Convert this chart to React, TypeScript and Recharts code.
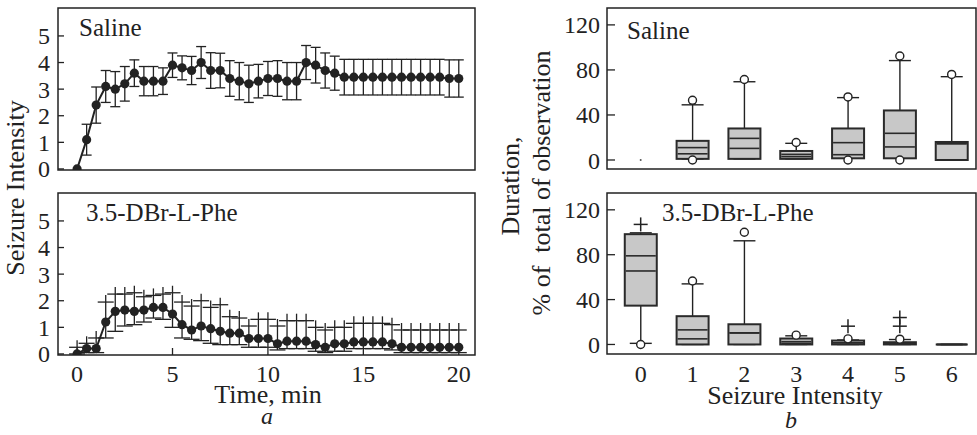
import React from "react";
import {
  Bar,
  ComposedChart,
  ErrorBar,
  Line,
  ReferenceArea,
  Scatter,
  XAxis,
  YAxis,
} from "recharts";

const FONT = '"Liberation Serif", "Times New Roman", serif';
const INK = "#222";

// ---- panel a: time course (min) ----
const times = [
  0, 0.5, 1, 1.5, 2, 2.5, 3, 3.5, 4, 4.5, 5, 5.5, 6, 6.5, 7, 7.5, 8, 8.5, 9,
  9.5, 10, 10.5, 11, 11.5, 12, 12.5, 13, 13.5, 14, 14.5, 15, 15.5, 16, 16.5,
  17, 17.5, 18, 18.5, 19, 19.5, 20,
];
const salineMean = [
  0, 1.1, 2.4, 3.1, 3.0, 3.2, 3.6, 3.3, 3.3, 3.3, 3.9, 3.8, 3.7, 4.0, 3.7, 3.7,
  3.4, 3.3, 3.2, 3.3, 3.4, 3.4, 3.3, 3.3, 4.0, 3.9, 3.7, 3.6, 3.45, 3.45, 3.45,
  3.45, 3.45, 3.45, 3.45, 3.45, 3.45, 3.45, 3.45, 3.4, 3.4,
];
const salineErr = [
  0, 0.58, 0.68, 0.6, 0.66, 0.65, 0.5, 0.55, 0.55, 0.5, 0.46, 0.45, 0.53, 0.6,
  0.67, 0.65, 0.67, 0.7, 0.7, 0.63, 0.64, 0.67, 0.7, 0.7, 0.64, 0.67, 0.66,
  0.64, 0.67, 0.67, 0.67, 0.67, 0.67, 0.67, 0.67, 0.67, 0.67, 0.67, 0.67, 0.7,
  0.7,
];
const pheMean = [
  0, 0.2, 0.2, 1.2, 1.6, 1.65, 1.6, 1.65, 1.75, 1.75, 1.5, 1.1, 0.9, 1.05,
  0.95, 0.85, 0.78, 0.78, 0.58, 0.58, 0.58, 0.38, 0.48, 0.48, 0.48, 0.35, 0.25,
  0.38, 0.38, 0.45, 0.45, 0.45, 0.45, 0.38, 0.25, 0.25, 0.25, 0.25, 0.25, 0.25,
  0.25,
];
const pheUpper = [
  0.25, 0.4, 0.6, 1.95, 2.25, 2.25, 2.3, 2.15, 2.2, 2.25, 2.3, 1.95, 1.8, 2.0,
  1.75, 1.85, 1.4, 1.35, 1.05, 1.3, 1.3, 1.05, 1.25, 1.25, 1.25, 1.0, 0.9, 1.0,
  1.0, 1.15, 1.15, 1.15, 1.15, 1.1, 0.9, 0.9, 0.9, 0.9, 0.9, 0.9, 0.9,
];
const pheLower = [
  0, 0.05, 0.05, 0.6, 0.85, 1.05, 1.1, 1.2, 1.35, 1.3, 1.0, 0.6, 0.55, 0.5,
  0.4, 0.35, 0.35, 0.35, 0.25, 0.25, 0.25, 0.15, 0.2, 0.2, 0.2, 0.1, 0.05, 0.1,
  0.1, 0.2, 0.2, 0.2, 0.2, 0.15, 0.05, 0.05, 0.05, 0.05, 0.05, 0.05, 0.05,
];
const intensityTicks = [0, 1, 2, 3, 4, 5];
const timeTicks = [0, 5, 10, 15, 20];

// ---- panel b: box plots by seizure intensity ----
const cats = [0, 1, 2, 3, 4, 5, 6];
const durationTicks = [0, 40, 80, 120];

const salQ1 = [null, 1, 1, 1, 1.5, 1.5, 0];
const salQ3 = [null, 17, 28, 8, 28, 44, 16];
const salLineA = [null, 5.5, 10.3, 3, 4.7, 11.6, 14.5];
const salLineB = [null, 11, 19.2, 5, 15.4, 23.7, 14.5];
const salWhiskLo = [null, 1, 1, 1, 1.5, 1.5, 0];
const salWhiskHi = [null, 49, 69.5, 14.8, 55.4, 88.3, 74];
const salCircleCat = [1, 1, 2, 3, 4, 4, 5, 5, 6];
const salCircleVal = [53, 0, 71.5, 15.5, 56, 0, 92.4, 0, 76];
const salDotCat = [0];
const salDotVal = [0];

const pheQ1 = [34.6, 0, 0, 0, 0, 0, 0];
const pheQ3 = [98.3, 25.2, 18, 5.3, 3.5, 2, 0];
const pheLineA = [65.5, 5, 10.3, 1, 1.5, 1, 0];
const pheLineB = [79, 13, 10.3, 2.5, 1.5, 1, 0];
const pheWhiskLo = [1, 0, 0, 0, 0, 0, 0];
const pheWhiskHi = [99.5, 54, 92.4, 7.7, 4, 4.4, 0];
const pheCircleCat = [0, 1, 2, 3, 4, 5];
const pheCircleVal = [0, 56.6, 100, 8.3, 5, 4.7];
const phePlusCat = [0, 4, 5, 5];
const phePlusVal = [107, 16.3, 16.3, 24];

const salineRows = times.map((t, i) => ({ t, m: salineMean[i], e: salineErr[i] }));
const pheRows = times.map((t, i) => ({
  t,
  m: pheMean[i],
  up: pheUpper[i],
  err: [pheMean[i] - pheLower[i], pheUpper[i] - pheMean[i]],
}));

type N = number | null;
function boxRows(q1: N[], q3: N[], a: N[], b: N[], lo: N[], hi: N[]) {
  return cats.map((cat, i) => ({
    cat,
    box: q1[i] == null ? null : [q1[i], q3[i]],
    med: a[i] == null ? null : [a[i], b[i]],
    whisk: lo[i] == null ? null : [lo[i], hi[i]],
  }));
}
const pts = (c: number[], v: number[]) => c.map((cat, i) => ({ cat, val: v[i] }));

const salBoxRows = boxRows(salQ1, salQ3, salLineA, salLineB, salWhiskLo, salWhiskHi);
const pheBoxRows = boxRows(pheQ1, pheQ3, pheLineA, pheLineB, pheWhiskLo, pheWhiskHi);

const tickStyle = { fontSize: 24, fill: INK, fontFamily: FONT };
const tickLine = { stroke: INK, strokeWidth: 1.3 };

// ---- shapes ----
const span = (p: any) => {
  const top = Math.min(p.y, p.y + p.height);
  const bot = Math.max(p.y, p.y + p.height);
  return { top, bot };
};

const Whisker = (p: any) => {
  if (p.x == null || p.y == null || !p.width) return null;
  const { top, bot } = span(p);
  const cx = p.x + p.width / 2;
  return (
    <g stroke={INK} strokeWidth={1.4}>
      <line x1={cx} x2={cx} y1={top} y2={bot} />
      <line x1={p.x} x2={p.x + p.width} y1={top} y2={top} />
      <line x1={p.x} x2={p.x + p.width} y1={bot} y2={bot} />
    </g>
  );
};

const BoxShape = (p: any) => {
  if (p.x == null || p.y == null || !p.width) return null;
  const { top, bot } = span(p);
  if (bot - top < 1) {
    return <line x1={p.x} x2={p.x + p.width} y1={top} y2={top} stroke={INK} strokeWidth={2} />;
  }
  return (
    <rect x={p.x} y={top} width={p.width} height={bot - top} fill="#c8c8c8" stroke="#2a2a2a" strokeWidth={2} />
  );
};

const MedianShape = (p: any) => {
  if (p.x == null || p.y == null || !p.width) return null;
  const { top, bot } = span(p);
  return (
    <g stroke="#2a2a2a" strokeWidth={1.6}>
      <line x1={p.x} x2={p.x + p.width} y1={top} y2={top} />
      <line x1={p.x} x2={p.x + p.width} y1={bot} y2={bot} />
    </g>
  );
};

const OpenCircle = (p: any) => (
  <circle cx={p.cx} cy={p.cy} r={4} fill="#fff" stroke={INK} strokeWidth={1.4} />
);
const TinyDot = (p: any) => <circle cx={p.cx} cy={p.cy} r={1} fill="#555" />;
const PlusMark = (p: any) => (
  <g stroke={INK} strokeWidth={1.5}>
    <line x1={p.cx - 7} x2={p.cx + 7} y1={p.cy} y2={p.cy} />
    <line x1={p.cx} x2={p.cx} y1={p.cy - 7} y2={p.cy + 7} />
  </g>
);
const TipMark = (p: any) => (
  <line x1={p.cx} x2={p.cx} y1={p.cy - 7} y2={p.cy} stroke={INK} strokeWidth={1.3} />
);

// ---- panels ----
const X_DOM: [number, number] = [-1, 20.85];
const Y_DOM: [number, number] = [-0.04, 6.05];

function TimePanel({ bottom }: { bottom: boolean }) {
  return (
    <ComposedChart
      width={480}
      height={bottom ? 250 : 185}
      data={bottom ? pheRows : salineRows}
      margin={{ top: 8, right: 5, bottom: 0, left: 0 }}
    >
      <XAxis
        dataKey="t"
        type="number"
        domain={X_DOM}
        allowDataOverflow
        ticks={bottom ? timeTicks : [5, 10, 15, 20]}
        interval={0}
        tick={bottom ? tickStyle : false}
        tickSize={-7}
        tickMargin={17}
        tickLine={tickLine}
        axisLine={false}
        height={bottom ? 80 : 15}
      />
      <YAxis
        type="number"
        domain={Y_DOM}
        allowDataOverflow
        ticks={intensityTicks}
        interval={0}
        width={58}
        tick={tickStyle}
        tickSize={-6}
        tickMargin={14}
        tickLine={tickLine}
        axisLine={false}
      />
      <ReferenceArea
        x1={X_DOM[0]}
        x2={X_DOM[1]}
        y1={Y_DOM[0]}
        y2={Y_DOM[1]}
        fill="none"
        fillOpacity={0}
        stroke={INK}
        strokeWidth={1.5}
        ifOverflow="visible"
      />
      <Line
        type="linear"
        dataKey="m"
        stroke={INK}
        strokeWidth={2}
        dot={{ r: 4.6, fill: INK, stroke: INK, strokeWidth: 0 }}
        isAnimationActive={false}
      >
        <ErrorBar
          dataKey={bottom ? "err" : "e"}
          width={bottom ? 8 : 5}
          stroke={INK}
          strokeWidth={1.3}
          direction="y"
        />
      </Line>
      {bottom && (
        <Scatter dataKey="up" shape={TipMark} isAnimationActive={false} />
      )}
    </ComposedChart>
  );
}

const C_DOM: [number, number] = [-0.65, 6.47];

function BoxPanel({ bottom }: { bottom: boolean }) {
  const yDom: [number, number] = bottom ? [-8.5, 135] : [-8, 135];
  const rows = bottom ? pheBoxRows : salBoxRows;
  const circles = bottom ? pts(pheCircleCat, pheCircleVal) : pts(salCircleCat, salCircleVal);
  return (
    <ComposedChart
      width={477}
      height={bottom ? 250 : 185}
      data={rows}
      margin={{ top: 8, right: 1, bottom: bottom ? 0 : 16, left: 0 }}
    >
      <XAxis xAxisId="w" dataKey="cat" type="number" domain={C_DOM} allowDataOverflow hide />
      <XAxis xAxisId="m" dataKey="cat" type="number" domain={C_DOM} allowDataOverflow hide />
      <XAxis
        xAxisId="b"
        dataKey="cat"
        type="number"
        domain={C_DOM}
        allowDataOverflow
        hide={!bottom}
        ticks={cats}
        interval={0}
        tick={tickStyle}
        tickSize={0}
        tickMargin={11}
        tickLine={false}
        axisLine={false}
        height={81}
      />
      <YAxis
        type="number"
        domain={yDom}
        allowDataOverflow
        ticks={durationTicks}
        interval={0}
        width={107}
        tick={tickStyle}
        tickSize={-8}
        tickMargin={15}
        tickLine={tickLine}
        axisLine={false}
      />
      <ReferenceArea
        xAxisId="b"
        x1={C_DOM[0]}
        x2={C_DOM[1]}
        y1={yDom[0]}
        y2={yDom[1]}
        fill="none"
        fillOpacity={0}
        stroke={INK}
        strokeWidth={1.5}
        ifOverflow="visible"
      />
      <Scatter xAxisId="b" data={circles} dataKey="val" shape={OpenCircle} isAnimationActive={false} />
      {!bottom && (
        <Scatter xAxisId="b" data={pts(salDotCat, salDotVal)} dataKey="val" shape={TinyDot} isAnimationActive={false} />
      )}
      <Bar xAxisId="w" dataKey="whisk" barSize={22} shape={Whisker} isAnimationActive={false} />
      <Bar xAxisId="b" dataKey="box" barSize={32} shape={BoxShape} isAnimationActive={false} />
      <Bar xAxisId="m" dataKey="med" barSize={30} shape={MedianShape} isAnimationActive={false} />
      {bottom && (
        <Scatter xAxisId="b" data={pts(phePlusCat, phePlusVal)} dataKey="val" shape={PlusMark} isAnimationActive={false} />
      )}
    </ComposedChart>
  );
}

export default function App() {
  return (
    <div
      style={{
        position: "absolute",
        left: 0,
        top: 0,
        width: 977,
        height: 435,
        background: "#fff",
        fontFamily: FONT,
      }}
    >
      <div style={{ position: "absolute", left: 0, top: 0 }}>
        <TimePanel bottom={false} />
      </div>
      <div style={{ position: "absolute", left: 0, top: 185 }}>
        <TimePanel bottom />
      </div>
      <div style={{ position: "absolute", left: 500, top: 0 }}>
        <BoxPanel bottom={false} />
      </div>
      <div style={{ position: "absolute", left: 500, top: 185 }}>
        <BoxPanel bottom />
      </div>
      <svg
        width={977}
        height={435}
        style={{ position: "absolute", left: 0, top: 0, pointerEvents: "none" }}
        fontFamily={FONT}
        fill={INK}
      >
        <text x={79} y={36} fontSize={25}>Saline</text>
        <text x={86} y={221} fontSize={25}>3.5-DBr-L-Phe</text>
        <text x={627} y={39} fontSize={25}>Saline</text>
        <text x={662} y={221} fontSize={25}>3.5-DBr-L-Phe</text>
        <text x={24} y={188} fontSize={26} textAnchor="middle" transform="rotate(-90 24 188)">
          Seizure Intensity
        </text>
        <text x={519} y={186} fontSize={26} textAnchor="middle" transform="rotate(-90 519 186)">
          Duration,
        </text>
        <text
          x={550}
          y={183}
          fontSize={26}
          textAnchor="middle"
          transform="rotate(-90 550 183)"
          style={{ whiteSpace: "pre" }}
        >
          {"% of  total of observation"}
        </text>
        <text x={268} y={403} fontSize={26} textAnchor="middle">Time, min</text>
        <text x={267} y={424} fontSize={24} textAnchor="middle" fontStyle="italic">a</text>
        <text x={795} y={404} fontSize={26} textAnchor="middle">Seizure Intensity</text>
        <text x={791} y={428} fontSize={24} textAnchor="middle" fontStyle="italic">b</text>
      </svg>
    </div>
  );
}
